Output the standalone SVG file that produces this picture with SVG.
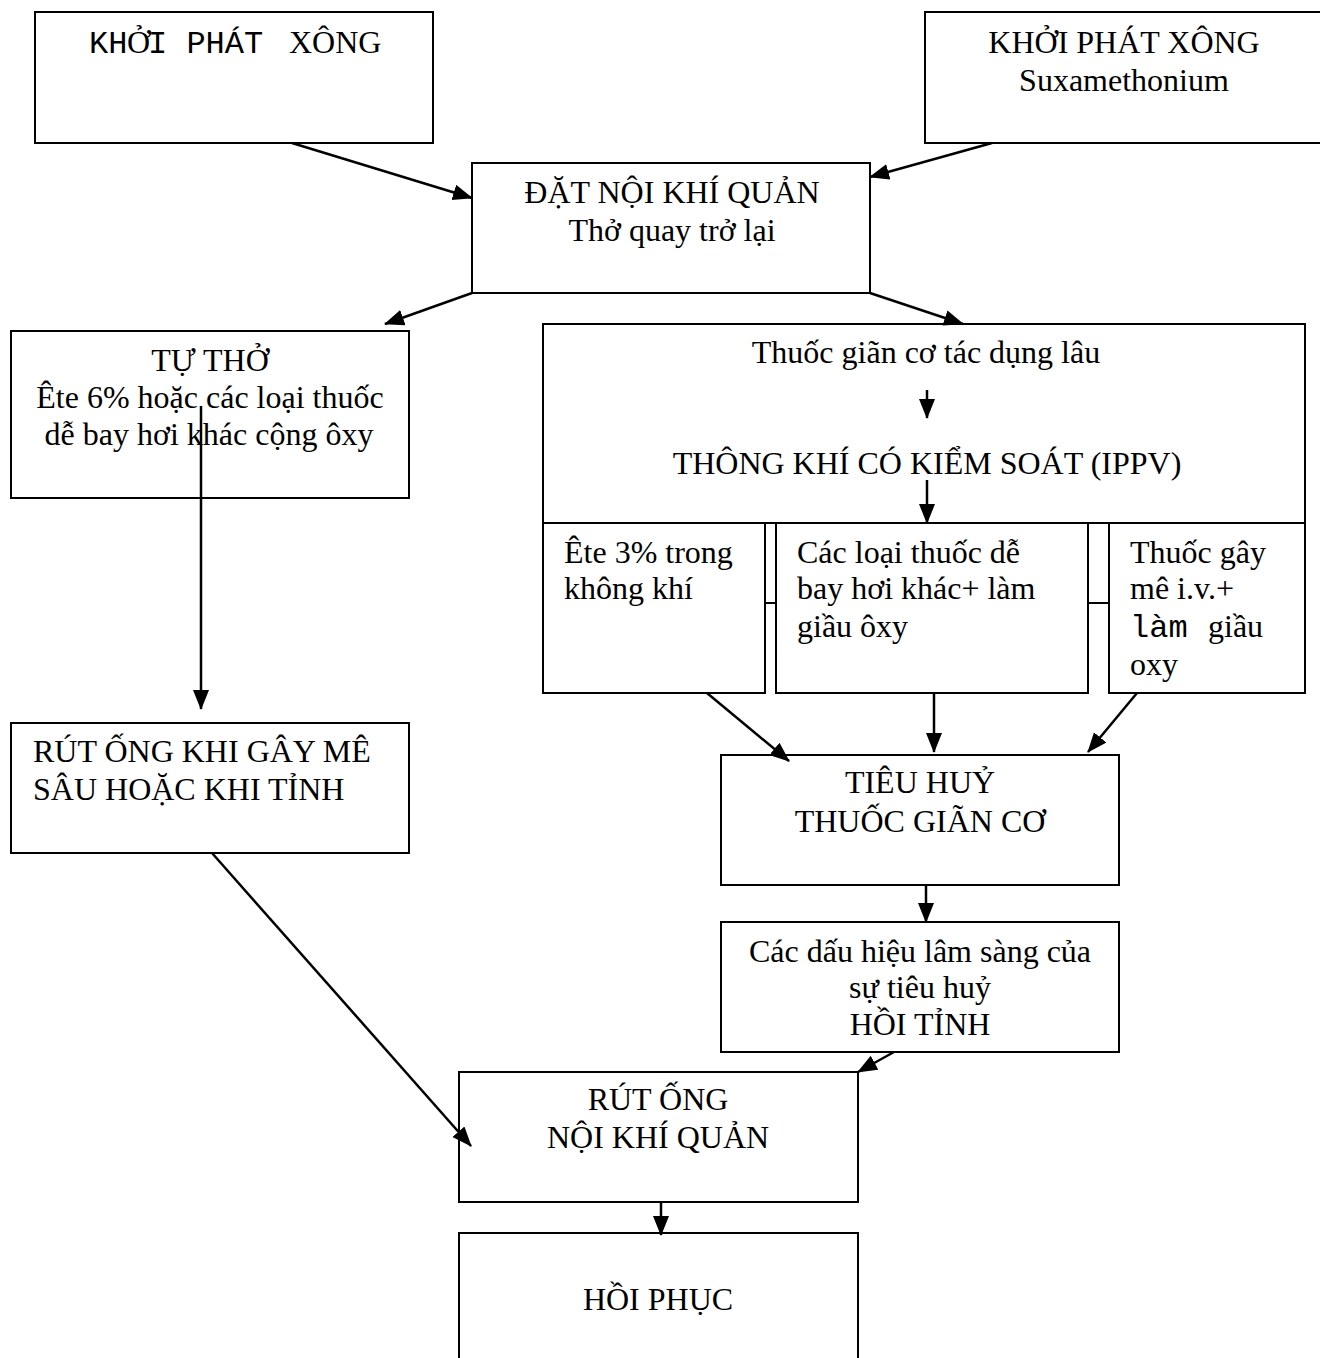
<svg xmlns="http://www.w3.org/2000/svg" width="1320" height="1358" viewBox="0 0 1320 1358">
  <style>
    .box { fill: #fff; stroke: #000; stroke-width: 2; }
    .t { font-family: "Liberation Serif", "Times New Roman", serif; font-size: 32px; fill: #000; }
    .c { text-anchor: middle; }
    .m { font-family: "Liberation Mono", "Courier New", monospace; }
    .edge { stroke: #000; stroke-width: 2.5; fill: none; marker-end: url(#arrow); }
    .tie { stroke: #000; stroke-width: 2; fill: none; }
  </style>
  <defs>
    <marker id="arrow" markerUnits="userSpaceOnUse" markerWidth="21" markerHeight="17" refX="19" refY="8" orient="auto">
      <path d="M0,0 L20,8 L0,16 z" fill="#000"/>
    </marker>
  </defs>

  <g id="n-khoi-phat-xong">
    <rect class="box" x="35" y="12" width="398" height="131"/>
    <text class="t" y="53"><tspan class="m" x="89">KH</tspan><tspan x="127">Ở</tspan><tspan class="m" x="148">I PHÁT</tspan><tspan x="289">XÔNG</tspan></text>
  </g>

  <g id="n-khoi-phat-suxa">
    <rect class="box" x="925" y="12" width="420" height="131"/>
    <text class="t c" x="1124" y="53">KHỞI PHÁT XÔNG</text>
    <text class="t c" x="1124" y="91">Suxamethonium</text>
  </g>

  <g id="n-dat-noi-khi-quan">
    <rect class="box" x="472" y="163" width="398" height="130"/>
    <text class="t c" x="672" y="203">ĐẶT NỘI KHÍ QUẢN</text>
    <text class="t c" x="672" y="241">Thở quay trở lại</text>
  </g>

  <g id="n-tu-tho">
    <rect class="box" x="11" y="331" width="398" height="167"/>
    <text class="t c" x="210" y="371">TỰ THỞ</text>
    <text class="t c" x="210" y="408">Ête 6% hoặc các loại thuốc</text>
    <text class="t c" x="209" y="445">dễ bay hơi khác cộng ôxy</text>
  </g>

  <g id="n-ippv">
    <rect class="box" x="543" y="324" width="762" height="199"/>
    <text class="t c" x="926" y="363">Thuốc giãn cơ tác dụng lâu</text>
    <text class="t c" x="927" y="474">THÔNG KHÍ CÓ KIỂM SOÁT (IPPV)</text>
  </g>

  <g id="n-ete-3">
    <rect class="box" x="543" y="523" width="222" height="170"/>
    <text class="t" x="564" y="563">Ête 3% trong</text>
    <text class="t" x="564" y="599">không khí</text>
  </g>

  <g id="n-thuoc-bay-hoi">
    <rect class="box" x="776" y="523" width="312" height="170"/>
    <text class="t" x="797" y="563">Các loại thuốc dễ</text>
    <text class="t" x="797" y="599">bay hơi khác+ làm</text>
    <text class="t" x="797" y="637">giầu ôxy</text>
  </g>

  <g id="n-thuoc-iv">
    <rect class="box" x="1109" y="523" width="196" height="170"/>
    <text class="t" x="1130" y="563">Thuốc gây</text>
    <text class="t" x="1130" y="599">mê i.v.+</text>
    <text class="t" y="637"><tspan class="m" x="1130">làm</tspan><tspan x="1208">giầu</tspan></text>
    <text class="t" x="1130" y="675">oxy</text>
  </g>

  <g id="n-rut-ong-sau">
    <rect class="box" x="11" y="723" width="398" height="130"/>
    <text class="t" x="33" y="762">RÚT ỐNG KHI GÂY MÊ</text>
    <text class="t" x="33" y="800">SÂU HOẶC KHI TỈNH</text>
  </g>

  <g id="n-tieu-huy">
    <rect class="box" x="721" y="755" width="398" height="130"/>
    <text class="t c" x="920" y="793">TIÊU HUỶ</text>
    <text class="t c" x="920" y="832">THUỐC GIÃN CƠ</text>
  </g>

  <g id="n-dau-hieu">
    <rect class="box" x="721" y="922" width="398" height="130"/>
    <text class="t c" x="920" y="962">Các dấu hiệu lâm sàng của</text>
    <text class="t c" x="920" y="998">sự tiêu huỷ</text>
    <text class="t c" x="920" y="1035">HỒI TỈNH</text>
  </g>

  <g id="n-rut-ong">
    <rect class="box" x="459" y="1072" width="399" height="130"/>
    <text class="t c" x="658" y="1110">RÚT ỐNG</text>
    <text class="t c" x="658" y="1148">NỘI KHÍ QUẢN</text>
  </g>

  <g id="n-hoi-phuc">
    <rect class="box" x="459" y="1233" width="399" height="140"/>
    <text class="t c" x="658" y="1310">HỒI PHỤC</text>
  </g>

  <g id="connectors">
    <line class="edge" x1="292" y1="143" x2="472" y2="198"/>
    <line class="edge" x1="992" y1="143" x2="870" y2="177"/>
    <line class="edge" x1="472" y1="293" x2="385" y2="324"/>
    <line class="edge" x1="870" y1="293" x2="963" y2="324"/>
    <line class="edge" x1="927" y1="390" x2="927" y2="418"/>
    <line class="edge" x1="927" y1="480" x2="927" y2="523"/>
    <line class="tie" x1="765" y1="603" x2="776" y2="603"/>
    <line class="tie" x1="1088" y1="603" x2="1109" y2="603"/>
    <line class="edge" x1="201" y1="406" x2="201" y2="709"/>
    <line class="edge" x1="707" y1="693" x2="789" y2="761"/>
    <line class="edge" x1="934" y1="693" x2="934" y2="752"/>
    <line class="edge" x1="1137" y1="693" x2="1088" y2="752"/>
    <line class="edge" x1="926" y1="885" x2="926" y2="922"/>
    <line class="edge" x1="894" y1="1052" x2="858" y2="1072"/>
    <line class="edge" x1="212" y1="853" x2="471" y2="1146"/>
    <line class="edge" x1="661" y1="1202" x2="661" y2="1235"/>
  </g>
</svg>
